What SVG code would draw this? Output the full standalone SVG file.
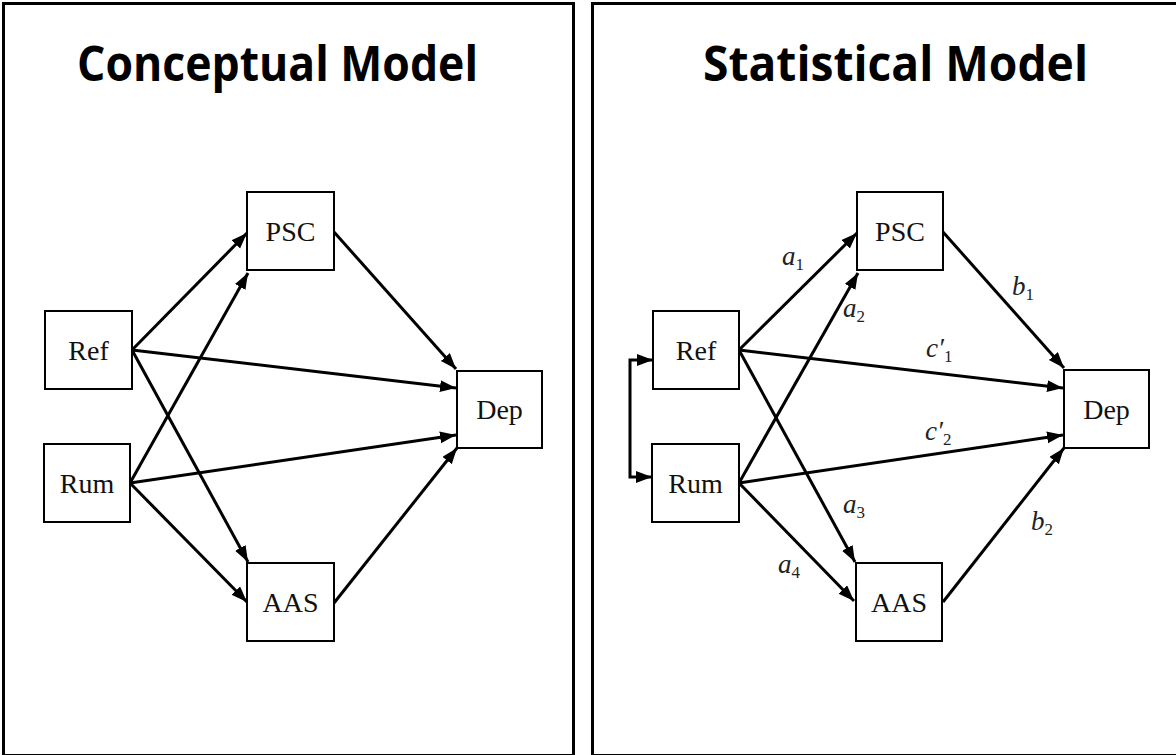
<svg xmlns="http://www.w3.org/2000/svg" width="1176" height="755" viewBox="0 0 1176 755">
<style>
.frame{fill:none;stroke:#000;stroke-width:3}
.title{font-family:"Open Sans","Liberation Sans",sans-serif;font-weight:bold;font-size:48px;fill:#000}
.box{fill:#fff;stroke:#000;stroke-width:2}
.nt{font-family:"Liberation Serif",serif;font-size:28px;fill:#111;text-anchor:middle}
.edge{fill:none;stroke:#000;stroke-width:3;marker-end:url(#ah)}
.lbl{font-family:"Liberation Serif",serif;font-style:italic;font-size:27px;fill:#222}
.sub{font-style:normal;font-size:17px}
</style>
<defs>
<marker id="ah" markerUnits="userSpaceOnUse" markerWidth="17" markerHeight="13" refX="16" refY="6" orient="auto">
<path d="M0,0 L16,6 L0,12 z" fill="#000"/>
</marker>
</defs>
<rect fill="#fff" x="0" y="0" width="1176" height="755"/>
<g id="panels">
<rect class="frame" x="3.5" y="3.5" width="570" height="752"/>
<rect class="frame" x="592.5" y="3.5" width="600" height="752"/>
<text class="title" x="77" y="81" textLength="401" lengthAdjust="spacingAndGlyphs">Conceptual Model</text>
<text class="title" x="703" y="81" textLength="385" lengthAdjust="spacingAndGlyphs">Statistical Model</text>
</g>
<g id="connectors">
<line class="edge" x1="132" y1="350" x2="247" y2="233"/>
<line class="edge" x1="130" y1="483" x2="248" y2="273"/>
<line class="edge" x1="132" y1="350" x2="248" y2="562"/>
<line class="edge" x1="130" y1="483" x2="247" y2="602"/>
<line class="edge" x1="334" y1="232" x2="456" y2="369"/>
<line class="edge" x1="334" y1="603" x2="457" y2="448"/>
<line class="edge" x1="132" y1="350" x2="456" y2="388"/>
<line class="edge" x1="130" y1="483" x2="456" y2="435"/>
<line class="edge" x1="739" y1="350" x2="857" y2="233"/>
<line class="edge" x1="739" y1="483" x2="858" y2="273"/>
<line class="edge" x1="739" y1="350" x2="855" y2="562"/>
<line class="edge" x1="739" y1="483" x2="854" y2="601"/>
<line class="edge" x1="943" y1="232" x2="1064" y2="368"/>
<line class="edge" x1="943" y1="602" x2="1064" y2="448"/>
<line class="edge" x1="739" y1="350" x2="1063" y2="388"/>
<line class="edge" x1="739" y1="483" x2="1063" y2="435"/>
<path class="edge" d="M630,418 V360 H653"/>
<path class="edge" d="M630,418 V477 H652"/>
</g>
<g id="labels">
<text class="lbl" x="782" y="265">a<tspan class="sub" dy="5">1</tspan></text>
<text class="lbl" x="843" y="317">a<tspan class="sub" dy="5">2</tspan></text>
<text class="lbl" x="843" y="513">a<tspan class="sub" dy="5">3</tspan></text>
<text class="lbl" x="778" y="573">a<tspan class="sub" dy="5">4</tspan></text>
<text class="lbl" x="1012" y="295">b<tspan class="sub" dy="5">1</tspan></text>
<text class="lbl" x="1031" y="530">b<tspan class="sub" dy="5">2</tspan></text>
<text class="lbl" x="926" y="357">c′<tspan class="sub" dy="5">1</tspan></text>
<text class="lbl" x="925" y="440">c′<tspan class="sub" dy="5">2</tspan></text>
</g>
<g id="node-ref-c"><rect class="box" x="45" y="311" width="87" height="78"/><text class="nt" x="88.5" y="360">Ref</text></g>
<g id="node-rum-c"><rect class="box" x="44" y="444" width="86" height="78"/><text class="nt" x="87" y="493">Rum</text></g>
<g id="node-psc-c"><rect class="box" x="247" y="192" width="87" height="78"/><text class="nt" x="290.5" y="241">PSC</text></g>
<g id="node-aas-c"><rect class="box" x="247" y="563" width="87" height="78"/><text class="nt" x="290.5" y="612">AAS</text></g>
<g id="node-dep-c"><rect class="box" x="457" y="371" width="85" height="77"/><text class="nt" x="499.5" y="419">Dep</text></g>
<g id="node-ref-s"><rect class="box" x="653" y="311" width="86" height="78"/><text class="nt" x="696" y="360">Ref</text></g>
<g id="node-rum-s"><rect class="box" x="652" y="444" width="87" height="78"/><text class="nt" x="695.5" y="493">Rum</text></g>
<g id="node-psc-s"><rect class="box" x="857" y="192" width="86" height="78"/><text class="nt" x="900" y="241">PSC</text></g>
<g id="node-aas-s"><rect class="box" x="856" y="563" width="86" height="78"/><text class="nt" x="899" y="612">AAS</text></g>
<g id="node-dep-s"><rect class="box" x="1064" y="370" width="85" height="78"/><text class="nt" x="1106.5" y="419">Dep</text></g>
</svg>
